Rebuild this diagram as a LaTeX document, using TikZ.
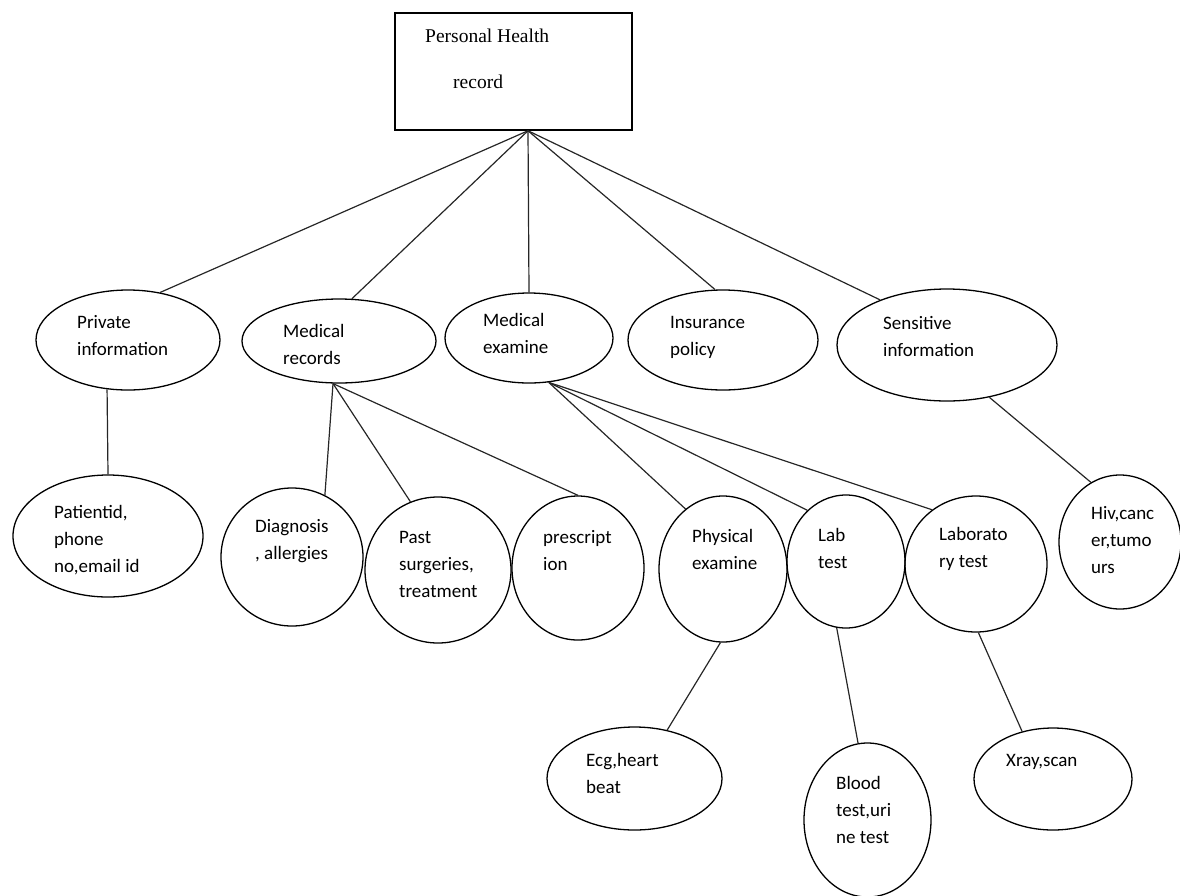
\documentclass[tikz,border=0pt]{standalone}
\usepackage{fontspec}
\setmainfont{Liberation Serif}
\newfontfamily\calfont{Carlito}
\usetikzlibrary{shapes.geometric,calc}
\begin{document}
\begin{tikzpicture}[x=1pt,y=-1pt,
  ell/.style={draw=black,line width=1.3pt,ellipse,inner sep=0pt,minimum width=#1},
  conn/.style={draw=black!85,line width=1.2pt},
  lbl/.style={anchor=base west,inner sep=0pt,align=left,font=\calfont\fontsize{19}{27}\selectfont,text=black},
  toplbl/.style={anchor=base west,inner sep=0pt,font=\fontsize{19.5}{23}\selectfont,text=black}]
\useasboundingbox (0,0) rectangle (1180,895);
% top box
\node[draw=black,line width=1.5pt,rectangle,minimum width=237pt,minimum height=117pt,inner sep=0pt] (box) at (513.5,71.5) {};
\node[toplbl] (tb1) at (425,42) {Personal Health};
\node[toplbl] (tb2) at (453,88) {record};
\coordinate (apex) at ([xshift=14.5pt]box.south);
% level 1
\node[ell=184pt,minimum height=100pt] (priv) at (128,340) {};
\node[ell=194pt,minimum height=84pt] (medrec) at (339,341) {};
\node[ell=168pt,minimum height=90pt] (medex) at (529,338) {};
\node[ell=190pt,minimum height=100pt] (ins) at (723,340) {};
\node[ell=220pt,minimum height=112pt] (sens) at (947,345) {};
% level 2
\node[ell=190pt,minimum height=122pt] (pat) at (108,536) {};
\node[ell=142pt,minimum height=138pt] (diag) at (292,557) {};
\node[ell=146pt,minimum height=146pt] (past) at (438,570) {};
\node[ell=132pt,minimum height=144pt] (pres) at (578,568) {};
\node[ell=128pt,minimum height=146pt] (phys) at (723,569) {};
\node[ell=118pt,minimum height=133pt] (lab) at (846,561.5) {};
\node[ell=142pt,minimum height=136pt] (labor) at (976,564) {};
\node[ell=122pt,minimum height=134pt] (hiv) at (1120,542) {};
% level 3
\node[ell=175pt,minimum height=103pt] (ecg) at (634.5,778.5) {};
\node[ell=127pt,minimum height=154pt] (blood) at (867.5,820) {};
\node[ell=158pt,minimum height=102pt] (xray) at (1053,779) {};
% connectors
\draw[conn] (apex) -- (priv.56);
\draw[conn] (apex) -- (medrec.73);
\draw[conn] (apex) -- (medex.90);
\draw[conn] (apex) -- (ins.99);
\draw[conn] (apex) -- (sens.146);
\draw[conn] (priv.247) -- (pat.90);
\draw[conn] (medrec.262) -- (diag.62);
\draw[conn] (medrec.262) -- (past.112);
\draw[conn] (medrec.262) -- (pres.90);
\draw[conn] (medex.294) -- (phys.122);
\draw[conn] (medex.294) -- (lab.127);
\draw[conn] (medex.294) -- (labor.129);
\draw[conn] (sens.309) -- (hiv.116);
\draw[conn] (phys.268) -- (ecg.56);
\draw[conn] (lab.262) -- (blood.97);
\draw[conn] (labor.272) -- (xray.123);
% labels (anchor = baseline of the last line)
\node[lbl] (t1) at (77,355) {Private\\information};
\node[lbl] (t2) at (283,364) {Medical\\records};
\node[lbl] (t3) at (483,353) {Medical\\examine};
\node[lbl] (t4) at (670,355) {Insurance\\policy};
\node[lbl] (t5) at (883,356) {Sensitive\\information};
\node[lbl] (t6) at (54,572) {Patientid,\\phone\\no,email id};
\node[lbl] (t7) at (255,559) {Diagnosis\\, allergies};
\node[lbl] (t8) at (399,597) {Past\\surgeries,\\treatment};
\node[lbl] (t9) at (543,570) {prescript\\ion};
\node[lbl] (t10) at (692,569) {Physical\\examine};
\node[lbl] (t11) at (818,568) {Lab\\test};
\node[lbl] (t12) at (939,567) {Laborato\\ry test};
\node[lbl] (t13) at (1091,573) {Hiv,canc\\er,tumo\\urs};
\node[lbl] (t14) at (586,793) {Ecg,heart\\beat};
\node[lbl] (t15) at (836,843) {Blood\\test,uri\\ne test};
\node[lbl] (t16) at (1006,766) {Xray,scan};
\end{tikzpicture}
\end{document}
